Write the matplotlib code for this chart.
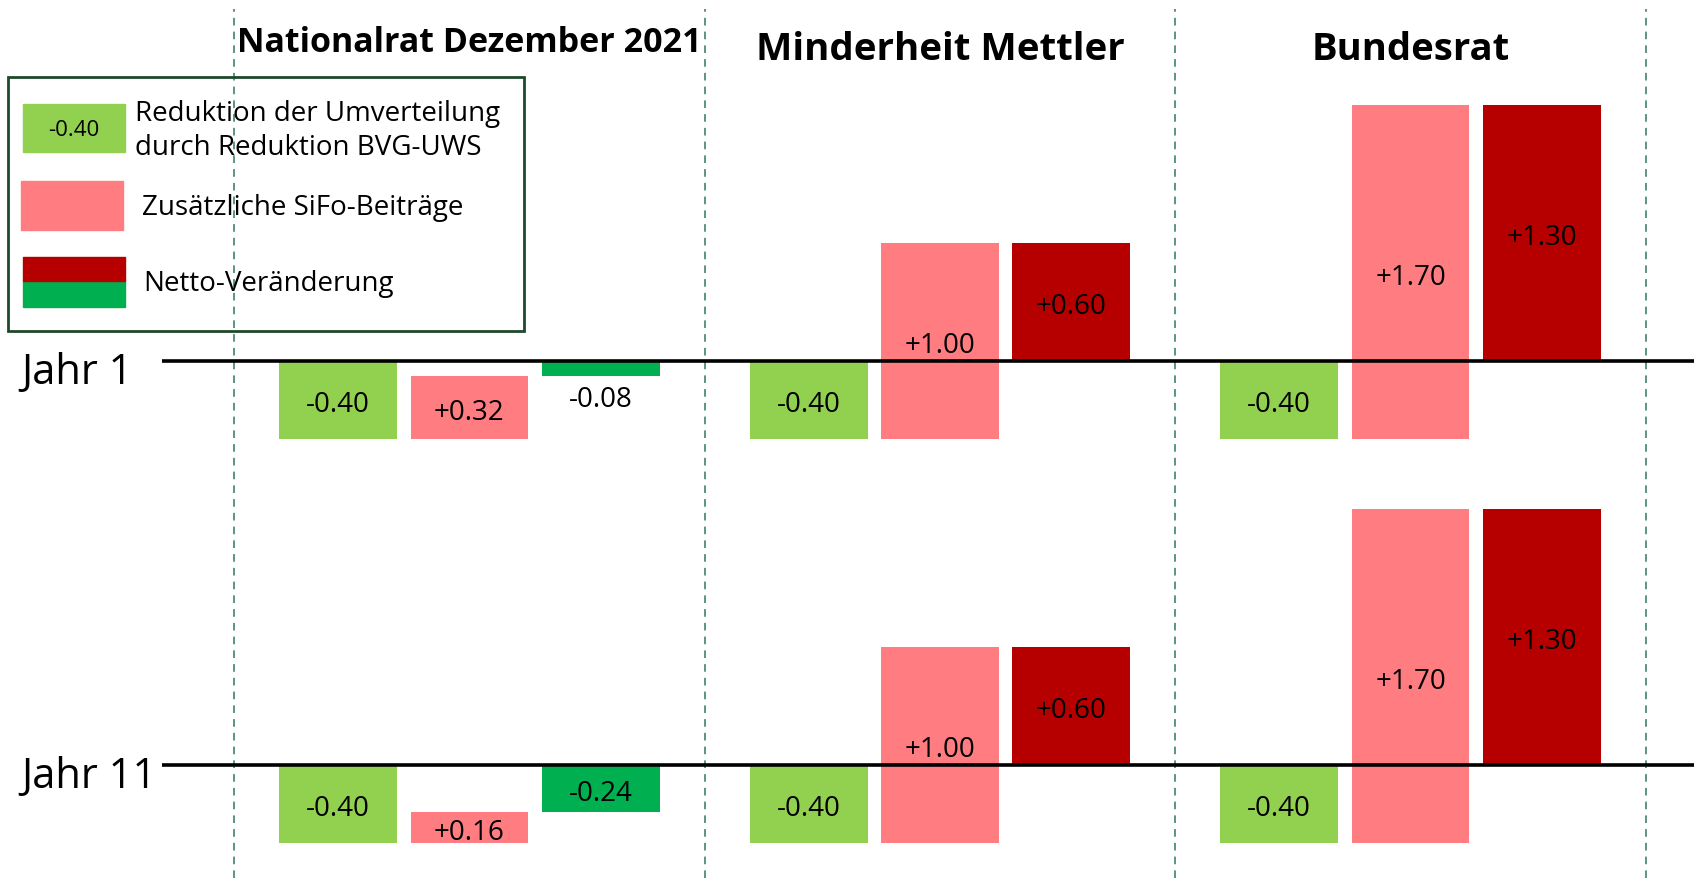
import matplotlib
matplotlib.use("Agg")
import matplotlib.pyplot as plt
from matplotlib.patches import Rectangle

plt.rcParams['font.family'] = ['Open Sans', 'DejaVu Sans']

# ---- data ----
groups = ["Nationalrat Dezember 2021", "Minderheit Mettler", "Bundesrat"]
rows = ["Jahr 1", "Jahr 11"]
reduction = {"Jahr 1": [-0.40, -0.40, -0.40], "Jahr 11": [-0.40, -0.40, -0.40]}
sifo = {"Jahr 1": [0.32, 1.00, 1.70], "Jahr 11": [0.16, 1.00, 1.70]}
net = {"Jahr 1": [-0.08, 0.60, 1.30], "Jahr 11": [-0.24, 0.60, 1.30]}
legend_labels = ["Reduktion der Umverteilung\ndurch Reduktion BVG-UWS",
                 "Zusätzliche SiFo-Beiträge", "Netto-Veränderung"]

# ---- style ----
C_RED_GREEN = "#92D050"
C_PINK = "#FF7C80"
C_NET_POS = "#B60000"
C_NET_NEG = "#00B050"
C_DASH = "#2E7A58"

W, H = 1568.0, 813.0           # layout reference units
SLOT = 121.5                   # px per bar slot
PXU = 182.0                    # px per value unit
X0 = 434.5                     # center of first group
Y0 = 334.0                     # baseline of first row
GAP = 3.585                    # group spacing in slots
ROW_OFF = [0.0, -(708 - 334) / PXU]
BAR_W = 0.897
VAL_FS = 20
LBL_DY = -5 / PXU

fig = plt.figure(figsize=(16.94, 8.781), dpi=100)
ax = fig.add_axes([0, 0, 1, 1])
ax.set_xlim(-X0 / SLOT, (W - X0) / SLOT)
ax.set_ylim(-(H - Y0) / PXU, Y0 / PXU)
ax.axis('off')

# dashed separators
for k in range(len(groups) + 1):
    xd = (k - 0.5) * GAP
    ax.plot([xd, xd], [-(H - Y0) / PXU, (Y0 - 8) / PXU], color=C_DASH, lw=1.1,
            ls=(0, (5, 4)), zorder=1)

def fmt(v):
    return f"{v:+.2f}" if v > 0 else f"{v:.2f}"

for r, row in enumerate(rows):
    base = ROW_OFF[r]
    for g in range(len(groups)):
        xc = g * GAP
        red = reduction[row][g]
        sf = sifo[row][g]
        nt = net[row][g]
        # reduction bar
        ax.bar(xc - 1, red, bottom=base, width=BAR_W, color=C_RED_GREEN, zorder=2)
        ax.text(xc - 1, base + red / 2 + LBL_DY, fmt(red), ha='center', va='center',
                fontsize=VAL_FS, zorder=5)
        # SiFo bar stacked from reduction level
        ax.bar(xc, sf, bottom=base + red, width=BAR_W, color=C_PINK, zorder=2)
        ax.text(xc, base + red + sf / 2 + LBL_DY, fmt(sf), ha='center', va='center',
                fontsize=VAL_FS, zorder=5)
        # net bar
        col = C_NET_POS if nt > 0 else C_NET_NEG
        ax.bar(xc + 1, nt, bottom=base, width=BAR_W, color=col, zorder=2)
        if abs(nt) < 0.15:
            ax.text(xc + 1, base + nt - 0.09 + LBL_DY, fmt(nt), ha='center', va='center',
                    fontsize=VAL_FS, zorder=5)
        else:
            ax.text(xc + 1, base + nt / 2 + LBL_DY, fmt(nt), ha='center', va='center',
                    fontsize=VAL_FS, zorder=5)
    # baseline
    ax.plot([(150 - X0) / SLOT, (W - X0) / SLOT], [base, base], color='black', lw=2.6,
            solid_capstyle='butt', zorder=4)
    ax.text((20 - X0) / SLOT, base - 11 / PXU, row, ha='left', va='center', fontsize=30, zorder=5)

# group titles
title_size = [24.5, 27.7, 27.5]
title_y = [40, 46, 46]
for g, name in enumerate(groups):
    ax.text(g * GAP, (Y0 - title_y[g]) / PXU, name, ha='center', va='center',
            fontsize=title_size[g], fontweight='bold', zorder=5)

# ---- legend (drawn manually in figure fraction) ----
def fx(px):
    return px / W

def fy(py):
    return 1 - py / H

tf = fig.transFigure
fig.patches.append(Rectangle((fx(7), fy(307)), fx(485) - fx(7), fy(71) - fy(307),
                             transform=tf, fill=False, edgecolor="#1E4A2C", lw=2.0, zorder=6))
fig.patches.append(Rectangle((fx(21), fy(141)), fx(95), fy(96) - fy(141),
                             transform=tf, color=C_RED_GREEN, zorder=7))
fig.text(fx(68), fy(121), "-0.40", ha='center', va='center', fontsize=16, zorder=8)
fig.patches.append(Rectangle((fx(19), fy(213)), fx(95), fy(168) - fy(213),
                             transform=tf, color=C_PINK, zorder=7))
fig.patches.append(Rectangle((fx(21), fy(284)), fx(95), fy(260) - fy(284),
                             transform=tf, color=C_NET_NEG, zorder=7))
fig.patches.append(Rectangle((fx(21), fy(260)), fx(95), fy(238) - fy(260),
                             transform=tf, color=C_NET_POS, zorder=7))
l1, l2 = legend_labels[0].split("\n")
fig.text(fx(125), fy(106), l1, ha='left', va='center', fontsize=20, zorder=8)
fig.text(fx(125), fy(137), l2, ha='left', va='center', fontsize=20, zorder=8)
fig.text(fx(131), fy(193), legend_labels[1], ha='left', va='center', fontsize=20, zorder=8)
fig.text(fx(133), fy(263), legend_labels[2], ha='left', va='center', fontsize=20, zorder=8)

fig.savefig("out.png", dpi=100, facecolor='white')
